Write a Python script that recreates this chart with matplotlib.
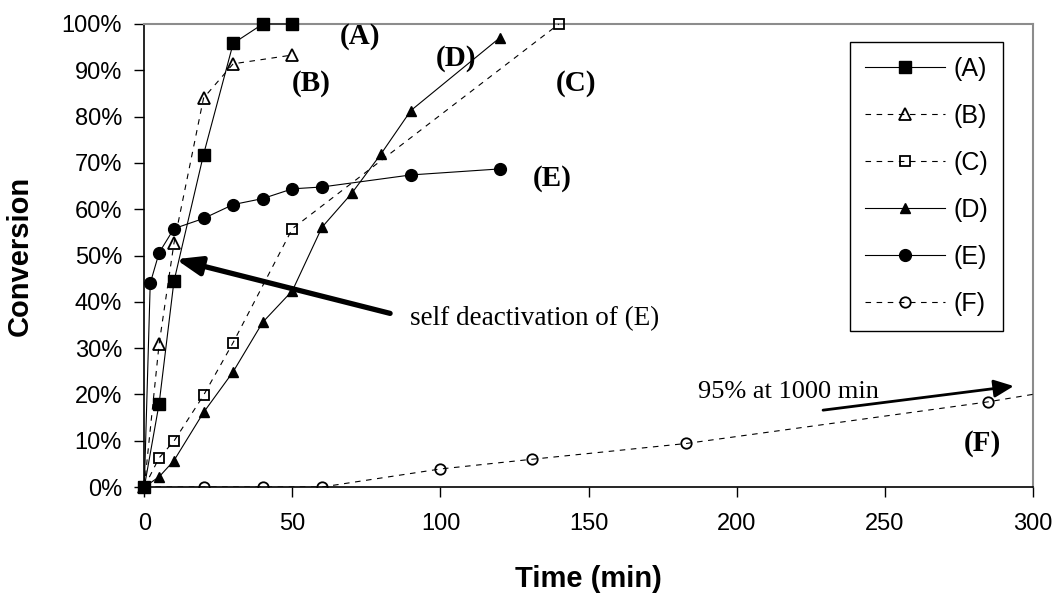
import numpy as np
import matplotlib
matplotlib.use('Agg')
import matplotlib.pyplot as plt
from matplotlib.ticker import PercentFormatter, MultipleLocator

# Conversion vs time
time_a = [0, 5, 10, 20, 30, 40, 50]
conv_a = [0.0, 0.18, 0.444, 0.718, 0.958, 1.0, 1.0]

time_b = [0, 5, 10, 20, 30, 50]
conv_b = [0.0, 0.309, 0.526, 0.840, 0.914, 0.933]

time_c = [0, 5, 10, 20, 30, 50, 140]
conv_c = [0.0, 0.063, 0.099, 0.198, 0.312, 0.558, 1.0]

time_d = [0, 5, 10, 20, 30, 40, 50, 60, 70, 80, 90, 120]
conv_d = [0.0, 0.022, 0.057, 0.161, 0.249, 0.356, 0.424, 0.561, 0.634, 0.720, 0.813, 0.970]

time_e = [0, 2, 5, 10, 20, 30, 40, 50, 60, 90, 120]
conv_e = [0.0, 0.440, 0.506, 0.558, 0.580, 0.610, 0.623, 0.644, 0.648, 0.674, 0.687]

time_f = [0, 20, 40, 60, 100, 131, 183, 285, 1000]
conv_f = [0.0, 0.0, 0.0, 0.0, 0.039, 0.060, 0.094, 0.184, 0.95]

labels = ['(A)', '(B)', '(C)', '(D)', '(E)', '(F)']

serif = 'Liberation Serif'
sans = 'Liberation Sans'
plt.rcParams['font.family'] = sans

fig = plt.figure(figsize=(10.58, 5.94), dpi=100)
ax = fig.add_axes([0.1364, 0.1801, 0.8397, 0.7795])

dash = (0, (5, 5))
lw = 0.8

ax.plot(time_a, conv_a, color='black', lw=lw, marker='s', ms=8,
        mfc='black', mec='black', label=labels[0], clip_on=False, zorder=4)
ax.plot(time_b, conv_b, color='black', lw=lw, ls=dash, marker='^', ms=9,
        mfc='none', mec='black', mew=1.3, label=labels[1], clip_on=False, zorder=4)
ax.plot(time_c, conv_c, color='black', lw=lw, ls=dash, marker='s', ms=7.5,
        mfc='none', mec='black', mew=1.3, label=labels[2], clip_on=False, zorder=4)
ax.plot(time_d, conv_d, color='black', lw=lw, marker='^', ms=7,
        mfc='black', mec='black', label=labels[3], clip_on=False, zorder=4)
ax.plot(time_e, conv_e, color='black', lw=lw, marker='o', ms=8.5,
        mfc='black', mec='black', label=labels[4], clip_on=False, zorder=4)
ax.plot(time_f, conv_f, color='black', lw=lw, ls=dash, marker='o', ms=7.5,
        mfc='none', mec='black', mew=1.3, label=labels[5], zorder=4)

ax.set_xlim(0, 300)
ax.set_ylim(0, 1)
ax.xaxis.set_major_locator(MultipleLocator(50))
ax.yaxis.set_major_locator(MultipleLocator(0.1))
ax.yaxis.set_major_formatter(PercentFormatter(1.0, decimals=0))
ax.tick_params(direction='out', length=7, width=1, labelsize=17)
ax.tick_params(axis='x', pad=12)
ax.tick_params(axis='y', pad=9)

for side in ['left', 'bottom']:
    ax.spines[side].set_color('black')
    ax.spines[side].set_linewidth(1.2)
for side in ['top', 'right']:
    ax.spines[side].set_color('#8c8c8c')
    ax.spines[side].set_linewidth(1.5)

ax.set_xlabel('Time (min)', fontsize=21, fontweight='bold')
ax.set_ylabel('Conversion', fontsize=21, fontweight='bold')
ax.xaxis.set_label_coords(0.5, -0.168)
ax.yaxis.set_label_coords(-0.124, 0.5)

# curve labels
curve_pos = [(72.8, 0.972), (56.5, 0.872), (145.8, 0.872), (105.3, 0.926), (137.6, 0.667), (283.1, 0.095)]
for lab, (x, y) in zip(labels, curve_pos):
    ax.text(x, y, lab, family=serif, fontweight='bold', fontsize=21,
            ha='center', va='center', zorder=5)

ax.text(89.7, 0.350, 'self deactivation of (E)', family=serif, fontsize=19.5,
        ha='left', va='baseline')
ax.text(187, 0.192, '95% at 1000 min', family=serif, fontsize=19,
        ha='left', va='baseline')

ax.annotate('', xy=(10.6, 0.492), xytext=(83, 0.375),
            arrowprops=dict(arrowstyle='-|>,head_length=0.75,head_width=0.28',
                            mutation_scale=20, lw=3.8, color='black',
                            shrinkA=0, shrinkB=0), zorder=6)
ax.annotate('', xy=(293.6, 0.218), xytext=(229.2, 0.166),
            arrowprops=dict(arrowstyle='-|>,head_length=0.6,head_width=0.27',
                            mutation_scale=20, lw=2.0, color='black',
                            shrinkA=0, shrinkB=0), annotation_clip=False, zorder=6)

leg = ax.legend(loc='upper right', bbox_to_anchor=(0.9666, 0.961), borderaxespad=0,
                fontsize=18, handlelength=3.2, handletextpad=0.35, labelspacing=0.92,
                borderpad=0.6, fancybox=False, framealpha=1, edgecolor='black')
leg.get_frame().set_linewidth(1.0)

fig.savefig('out.png', dpi=100)
